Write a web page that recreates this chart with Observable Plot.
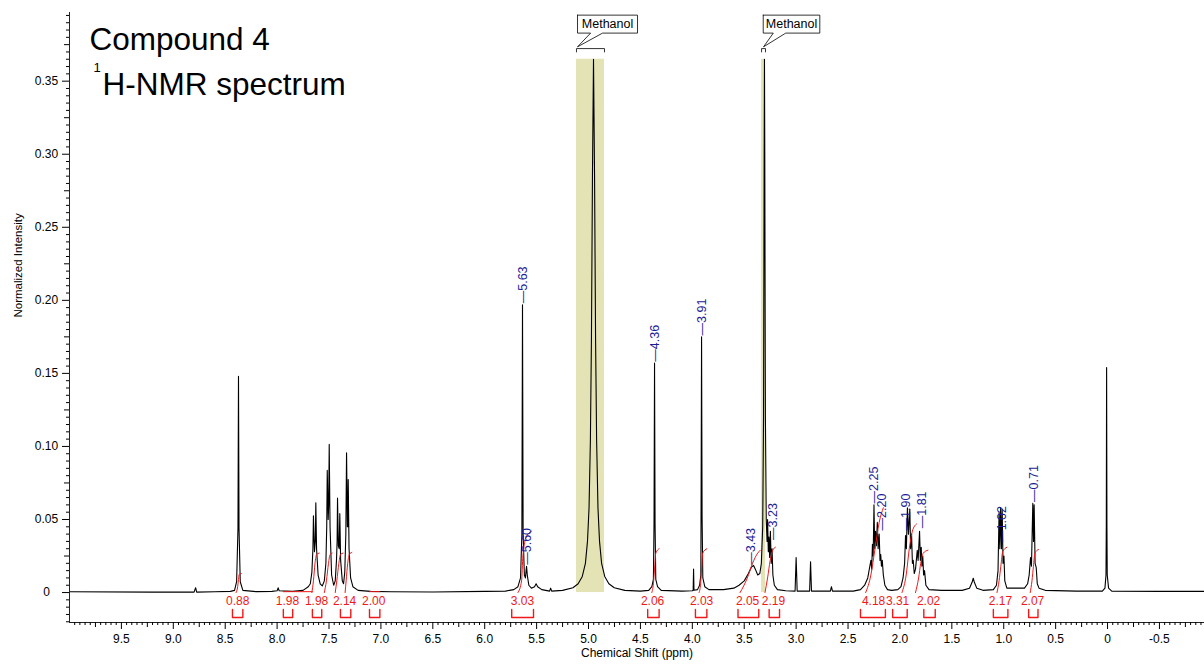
<!DOCTYPE html>
<html><head><meta charset="utf-8">
<script src="https://cdn.jsdelivr.net/npm/d3@7"></script>
<script src="https://cdn.jsdelivr.net/npm/@observablehq/plot@0.6"></script>
<style>body{margin:0;background:#fff}#chart{width:1204px;height:664px}</style>
</head><body><div id="chart"></div>
<script>
// ---------- data ----------
const xDomain = [10.0, -0.934];
const yDomain = [-0.0205, 0.397];
const xMajorTicks = [9.5, 9.0, 8.5, 8.0, 7.5, 7.0, 6.5, 6.0, 5.5, 5.0, 4.5, 4.0, 3.5, 3.0, 2.5, 2.0, 1.5, 1.0, 0.5, 0, -0.5];
const yMajorTicks = [0, 0.05, 0.10, 0.15, 0.20, 0.25, 0.30, 0.35];

// spectrum points [ppm, normalized intensity]
const spectrum = [
  [10.0,0.0005],[9.2,0.0003],[8.80,0.0003],[8.785,0.0033],[8.775,0.0003],[8.6,0.0005],[8.45,0.0008],
  [8.41,0.0015],[8.39,0.0074],[8.377,0.044],[8.372,0.148],[8.367,0.044],[8.355,0.0074],[8.33,0.0015],
  [8.2,0.0006],[8.05,0.0008],[8.00,0.0012],[7.99,0.0032],[7.98,0.0012],[7.85,0.0008],[7.75,0.0015],[7.70,0.004],
  [7.68,0.006],[7.665,0.014],[7.655,0.03],[7.650,0.0525],[7.640,0.028],[7.632,0.035],[7.627,0.0614],[7.620,0.03],
  [7.605,0.012],[7.585,0.006],[7.565,0.0045],[7.545,0.008],[7.530,0.02],[7.522,0.045],[7.517,0.0836],[7.508,0.05],
  [7.503,0.06],[7.498,0.1014],[7.490,0.045],[7.475,0.012],[7.455,0.005],[7.440,0.008],[7.428,0.022],[7.422,0.035],
  [7.418,0.0646],[7.410,0.032],[7.402,0.03],[7.396,0.054],[7.388,0.022],[7.372,0.008],[7.36,0.006],[7.348,0.014],
  [7.338,0.04],[7.331,0.0957],[7.323,0.045],[7.319,0.045],[7.315,0.0774],[7.307,0.03],[7.292,0.01],[7.27,0.004],
  [7.22,0.0015],[7.1,0.0008],[6.9,0.0005],[6.5,0.0004],[6.0,0.0008],[5.8,0.001],[5.72,0.002],[5.68,0.004],
  [5.655,0.01],[5.642,0.04],[5.636,0.197],[5.630,0.04],[5.618,0.012],[5.608,0.010],[5.600,0.016],[5.597,0.018],
  [5.590,0.012],[5.575,0.005],[5.55,0.003],[5.52,0.004],[5.505,0.006],[5.49,0.004],[5.45,0.002],[5.375,0.001],
  [5.365,0.003],[5.355,0.001],[5.25,0.0015],[5.15,0.0033],[5.10,0.006],[5.06,0.011],[5.03,0.020],[5.01,0.035],
  [4.995,0.058],[4.982,0.104],[4.972,0.173],[4.962,0.286],[4.952,0.365],[4.942,0.286],[4.932,0.173],[4.922,0.104],
  [4.909,0.058],[4.894,0.035],[4.874,0.020],[4.844,0.011],[4.804,0.006],[4.752,0.0033],[4.65,0.0015],[4.5,0.001],
  [4.42,0.0015],[4.39,0.004],[4.375,0.009],[4.369,0.047],[4.364,0.157],[4.359,0.047],[4.352,0.009],[4.335,0.004],
  [4.3,0.0015],[4.1,0.001],[4.0,0.0012],[3.992,0.0016],[3.988,0.016],[3.984,0.0016],[3.95,0.002],[3.93,0.005],
  [3.918,0.012],[3.916,0.052],[3.911,0.175],[3.906,0.052],[3.899,0.010],[3.88,0.004],[3.84,0.002],[3.70,0.002],
  [3.60,0.003],[3.55,0.005],[3.50,0.008],[3.46,0.013],[3.43,0.0175],[3.41,0.0185],[3.39,0.0155],[3.37,0.012],
  [3.35,0.013],[3.335,0.02],[3.322,0.045],[3.314,0.12],[3.308,0.30],[3.305,0.365],[3.302,0.30],[3.296,0.12],
  [3.288,0.05],[3.280,0.035],[3.275,0.050],[3.268,0.028],[3.262,0.038],[3.255,0.024],[3.248,0.042],[3.240,0.02],
  [3.232,0.030],[3.224,0.012],[3.21,0.005],[3.18,0.002],[3.1,0.0012],[3.01,0.001],[3.0,0.024],[2.99,0.001],
  [2.87,0.001],[2.861,0.021],[2.852,0.001],[2.67,0.001],[2.66,0.004],[2.65,0.001],[2.45,0.001],[2.38,0.002],
  [2.34,0.005],[2.31,0.01],[2.29,0.018],[2.28,0.022],[2.272,0.016],[2.265,0.033],[2.258,0.025],[2.25,0.060],
  [2.243,0.030],[2.235,0.042],[2.227,0.032],[2.218,0.048],[2.21,0.030],[2.20,0.040],[2.192,0.022],[2.185,0.026],
  [2.178,0.018],[2.17,0.022],[2.16,0.012],[2.145,0.005],[2.12,0.002],[2.08,0.0015],[2.02,0.002],[1.99,0.004],
  [1.97,0.01],[1.955,0.02],[1.946,0.039],[1.938,0.030],[1.928,0.058],[1.918,0.040],[1.905,0.057],[1.897,0.030],
  [1.888,0.040],[1.88,0.020],[1.872,0.022],[1.862,0.013],[1.85,0.016],[1.833,0.029],[1.825,0.022],[1.811,0.042],
  [1.803,0.022],[1.795,0.031],[1.788,0.018],[1.78,0.025],[1.772,0.012],[1.763,0.015],[1.75,0.005],[1.72,0.002],
  [1.60,0.0015],[1.40,0.0015],[1.33,0.003],[1.305,0.007],[1.294,0.0098],[1.283,0.007],[1.26,0.003],[1.2,0.0015],
  [1.10,0.002],[1.07,0.005],[1.055,0.015],[1.045,0.055],[1.038,0.03],[1.030,0.058],[1.022,0.03],[1.015,0.057],
  [1.007,0.02],[0.998,0.025],[0.99,0.008],[0.97,0.003],[0.92,0.003],[0.85,0.003],[0.80,0.003],[0.77,0.006],
  [0.755,0.012],[0.742,0.024],[0.733,0.018],[0.720,0.061],[0.713,0.035],[0.707,0.060],[0.698,0.02],[0.687,0.017],
  [0.677,0.006],[0.66,0.003],[0.60,0.0015],[0.3,0.001],[0.05,0.001],[0.025,0.003],[0.015,0.012],[0.012,0.046],
  [0.009,0.154],[0.006,0.046],[0.003,0.012],[-0.01,0.003],[-0.04,0.001],[-0.5,0.0008],[-0.934,0.0008]
];

// methanol (solvent) highlighted regions [from ppm, to ppm]
const methanolFrom = [5.116, 3.333];
const methanolTo = [4.846, 3.295];
const methanolTop = 0.365;

// peak-picking labels
const peakLabelText = ["5.63","5.60","4.36","3.91","3.43","3.23","2.25","2.20","1.90","1.81","1.02","0.71"];
const peakLabelPpm  = [5.636, 5.588, 4.364, 3.911, 3.43, 3.226, 2.254, 2.168, 1.946, 1.79, 1.02, 0.713];
const peakLabelY    = [0.198, 0.019, 0.158, 0.176, 0.019, 0.036, 0.061, 0.0425, 0.0425, 0.044, 0.034, 0.062];

// integrals
const integralText   = ["0.88","1.98","1.98","2.14","2.00","3.03","2.06","2.03","2.05","2.19","4.18","3.31","2.02","2.17","2.07"];
const integralCenter = [8.38, 7.90, 7.62, 7.35, 7.07, 5.636, 4.383, 3.911, 3.468, 3.218, 2.254, 2.023, 1.724, 1.031, 0.7225];
const integralFrom   = [8.43, 7.94, 7.66, 7.39, 7.11, 5.74, 4.43, 3.97, 3.56, 3.26, 2.38, 2.07, 1.77, 1.10, 0.76];
const integralTo     = [8.33, 7.85, 7.57, 7.29, 7.01, 5.53, 4.32, 3.86, 3.36, 3.16, 2.14, 1.93, 1.66, 0.96, 0.67];

// integral curves [ppm, value]
const integralCurves = [
  [[8.395,0],[8.38,0.004],[8.372,0.009],[8.365,0.0125],[8.345,0.013]],
  [[7.665,0],[7.65,0.008],[7.635,0.02],[7.62,0.026],[7.595,0.027]],
  [[7.545,0],[7.525,0.008],[7.505,0.02],[7.49,0.026],[7.47,0.027]],
  [[7.44,0],[7.425,0.008],[7.405,0.02],[7.39,0.026],[7.365,0.027]],
  [[7.345,0],[7.335,0.008],[7.32,0.02],[7.305,0.026],[7.28,0.0275]],
  [[5.68,0],[5.645,0.008],[5.632,0.025],[5.60,0.038],[5.55,0.042]],
  [[4.39,0],[4.375,0.006],[4.364,0.016],[4.352,0.027],[4.32,0.030]],
  [[3.935,0],[3.92,0.006],[3.911,0.016],[3.90,0.027],[3.86,0.030]],
  [[3.54,0],[3.47,0.010],[3.42,0.020],[3.37,0.027],[3.345,0.029]],
  [[3.30,0],[3.275,0.01],[3.25,0.022],[3.225,0.029],[3.20,0.031]],
  [[2.33,0],[2.28,0.012],[2.24,0.03],[2.20,0.048],[2.16,0.058]],
  [[1.98,0],[1.94,0.012],[1.91,0.03],[1.88,0.042],[1.84,0.047]],
  [[1.85,0],[1.82,0.01],[1.80,0.02],[1.775,0.027],[1.73,0.029]],
  [[1.065,0],[1.045,0.008],[1.028,0.018],[1.01,0.028],[0.97,0.031]],
  [[0.745,0],[0.728,0.008],[0.714,0.018],[0.70,0.027],[0.665,0.0295]],
  [[7.94,0.0006],[7.66,0.0006]],
  [[7.11,0.0006],[7.01,0.0006]]
];

// "Methanol" callouts
const calloutText  = ["Methanol", "Methanol"];
const calloutLeft  = [5.106, 3.317];
const calloutRight = [4.528, 2.772];
const calloutTailA = [4.98, 3.22];
const calloutTailB = [4.865, 3.10];
const calloutTip   = [5.106, 3.314];

// ---------- layout constants ----------
const boxTop = 0.3952, boxBottom = 0.3829, tipY = 0.3735;
const spanTop = 0.3723, spanBottom = 0.3700;
const bracketTop = -0.0116, bracketBottom = -0.0171;
const FONT = "'Liberation Sans', Arial, Helvetica, sans-serif";
const RED = "#f01818", BLUE = "#1c1c96";

const fmtX = d => d === 0 ? "0" : d.toFixed(1);
const fmtY = d => d === 0 ? "0" : d.toFixed(2);

const xMinor = d3.range(-18, 201).filter(i => i % 5 !== 0).map(i => i / 20);
const xMid = d3.range(-18, 201).filter(i => i % 5 === 0 && i % 10 !== 0).map(i => i / 20);
const yMinor = d3.range(-4, 80).filter(i => i % 5 !== 0).map(i => i / 200);
const yMid = d3.range(-4, 80).filter(i => i % 5 === 0 && i % 10 !== 0).map(i => i / 200);

const peakLabels = peakLabelText.map((t, i) => ({t, x: peakLabelPpm[i], y: peakLabelY[i]}));
const integrals = integralText.map((t, i) => ({t, x: integralCenter[i], from: integralFrom[i], to: integralTo[i]}));
const bracketPts = integrals.flatMap((d, i) => [
  {i, x: d.from, y: bracketTop}, {i, x: d.from, y: bracketBottom},
  {i, x: d.to, y: bracketBottom}, {i, x: d.to, y: bracketTop}]);
const curvePts = integralCurves.flatMap((c, i) => c.map(p => ({i, x: p[0], y: p[1]})));
const highlights = methanolFrom.map((f, i) => ({x1: f, x2: methanolTo[i]}));
const calloutPts = calloutText.flatMap((t, i) => {
  const L = calloutLeft[i], R = calloutRight[i], A = calloutTailA[i], B = calloutTailB[i], T = calloutTip[i];
  return [[L,boxTop],[R,boxTop],[R,boxBottom],[B,boxBottom],[T,tipY],[A,boxBottom],[L,boxBottom],[L,boxTop]]
    .map(p => ({i, x: p[0], y: p[1]}));
});
const spanPts = highlights.flatMap((h, i) => [
  {i, x: h.x1, y: spanBottom}, {i, x: h.x1, y: spanTop}, {i, x: h.x2, y: spanTop}, {i, x: h.x2, y: spanBottom}]);
const calloutLabels = calloutText.map((t, i) => ({t, x: (calloutLeft[i] + calloutRight[i]) / 2, y: (boxTop + boxBottom) / 2}));

const chart = Plot.plot({
  width: 1204, height: 664,
  marginLeft: 69, marginRight: 0, marginTop: 12, marginBottom: 42,
  style: {fontFamily: FONT, fontSize: "12px", background: "white", color: "black"},
  x: {domain: xDomain, axis: null},
  y: {domain: yDomain, axis: null},
  marks: [
    Plot.rect(highlights, {x1: "x1", x2: "x2", y1: 0, y2: methanolTop, fill: "#e4e3b6"}),
    Plot.line(spectrum, {x: d => d[0], y: d => d[1], stroke: "black", strokeWidth: 1.1}),
    Plot.line(curvePts, {x: "x", y: "y", z: "i", stroke: RED, strokeWidth: 1, curve: "monotone-x"}),
    Plot.text(peakLabels, {x: "x", y: "y", text: d => "\u2014" + d.t, rotate: -90, textAnchor: "start", lineAnchor: "middle", fill: BLUE, fontSize: 12.5}),
    Plot.text(integrals, {x: "x", y: 0, text: "t", dy: 9, lineAnchor: "middle", fill: RED, fontSize: 12}),
    Plot.line(bracketPts, {x: "x", y: "y", z: "i", stroke: RED, strokeWidth: 1.4}),
    Plot.line(calloutPts, {x: "x", y: "y", z: "i", stroke: "black", strokeWidth: 0.8, fill: "white"}),
    Plot.line(spanPts, {x: "x", y: "y", z: "i", stroke: "black", strokeWidth: 0.8}),
    Plot.text(calloutLabels, {x: "x", y: "y", text: "t", fontSize: 12.5, lineAnchor: "middle"}),
    // axes
    Plot.ruleX([xDomain[0]], {stroke: "#222"}),
    Plot.ruleY([yDomain[0]], {stroke: "#222"}),
    Plot.axisX({ticks: xMajorTicks, tickSize: 7, tickFormat: () => "", label: null}),
    Plot.axisX({ticks: xMid, tickSize: 5, tickFormat: () => "", label: null}),
    Plot.axisX({ticks: xMinor, tickSize: 3, tickFormat: () => "", label: null}),
    Plot.axisY({ticks: yMajorTicks, tickSize: 7, tickFormat: () => "", label: null}),
    Plot.axisY({ticks: yMid, tickSize: 5, tickFormat: () => "", label: null}),
    Plot.axisY({ticks: yMinor, tickSize: 3, tickFormat: () => "", label: null}),
    Plot.text(xMajorTicks, {x: d => d, frameAnchor: "bottom", dy: 17, lineAnchor: "middle", text: fmtX, fontSize: 12}),
    Plot.text(yMajorTicks, {y: d => d, frameAnchor: "left", dx: -23, textAnchor: "middle", lineAnchor: "middle", text: fmtY, fontSize: 12}),
    Plot.text(["Chemical Shift (ppm)"], {frameAnchor: "bottom", dy: 31, lineAnchor: "middle", fontSize: 12}),
    Plot.text(["Normalized Intensity"], {frameAnchor: "left", dx: -51, rotate: -90, lineAnchor: "middle", fontSize: 11.5}),
    // title
    Plot.text(["Compound 4"], {frameAnchor: "top-left", dx: 20, dy: 15, textAnchor: "start", lineAnchor: "top", fontSize: 31.5}),
    Plot.text(["1"], {frameAnchor: "top-left", dx: 24, dy: 50, textAnchor: "start", lineAnchor: "top", fontSize: 13}),
    Plot.text(["H-NMR spectrum"], {frameAnchor: "top-left", dx: 33, dy: 60, textAnchor: "start", lineAnchor: "top", fontSize: 31.5})
  ]
});
document.getElementById("chart").appendChild(chart);
</script></body></html>
